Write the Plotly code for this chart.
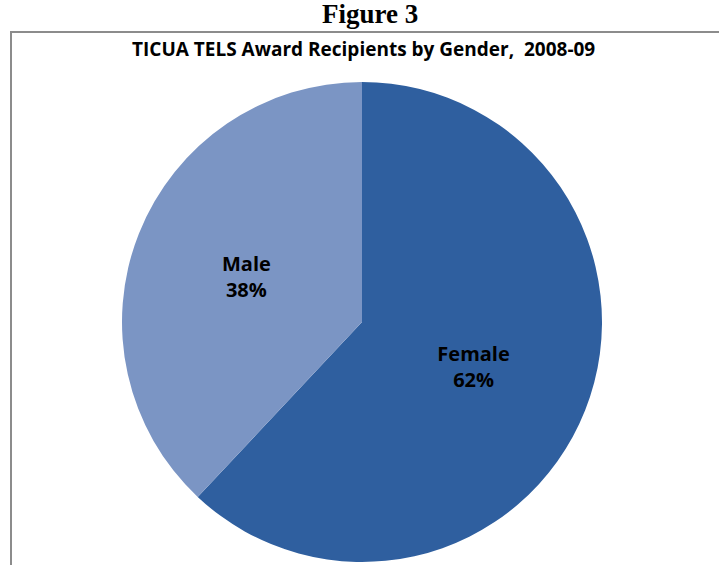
import plotly.graph_objects as go

labels = ["Female", "Male"]
values = [62, 38]
colors = ["#2f5f9f", "#7b95c4"]

W, H = 719, 565

def px(x):  # page x -> paper fraction
    return x / W

def py(y):  # page y -> paper fraction (from bottom)
    return 1 - y / H

cx, cy, r = 362, 322, 240

fig = go.Figure()
fig.add_trace(go.Pie(
    labels=labels, values=values, sort=False, direction="clockwise", rotation=0,
    marker=dict(colors=colors, line=dict(width=0)),
    texttemplate="<b>%{label}</b><br><b>%{percent:.0%}</b>",
    textposition="inside", insidetextorientation="horizontal",
    textfont=dict(family="Open Sans, Noto Sans, sans-serif", size=20, color="black"),
    showlegend=False, hoverinfo="label+percent",
    domain=dict(x=[px(cx - r), px(cx + r)], y=[max(0, py(cy + r)), py(cy - r)]),
))

# chart-area border: only the top and left edges are visible in the window
fig.add_shape(type="path", xref="paper", yref="paper",
              path=f"M {px(11)},0 L {px(11)},{py(32)} L {px(719)},{py(32)}",
              line=dict(color="#8c8c8c", width=2), fillcolor="rgba(0,0,0,0)", layer="above")

fig.add_annotation(text="<b>Figure 3</b>", x=px(370), y=py(14), xref="paper", yref="paper",
                   showarrow=False, font=dict(family="Liberation Serif, Times New Roman, serif", size=27, color="black"),
                   xanchor="center", yanchor="middle")
fig.add_annotation(text="<b>TICUA TELS Award Recipients by Gender,  2008-09</b>", x=px(364), y=py(49),
                   xref="paper", yref="paper", showarrow=False,
                   font=dict(family="Open Sans, Noto Sans, sans-serif", size=19, color="black"),
                   xanchor="center", yanchor="middle")

fig.update_layout(width=W, height=H, margin=dict(l=0, r=0, t=0, b=0),
                  paper_bgcolor="white", plot_bgcolor="white")
fig.write_html("out.html", config={"displayModeBar": False},
               post_script="document.body.style.margin='0px';document.body.style.overflow='hidden';")
